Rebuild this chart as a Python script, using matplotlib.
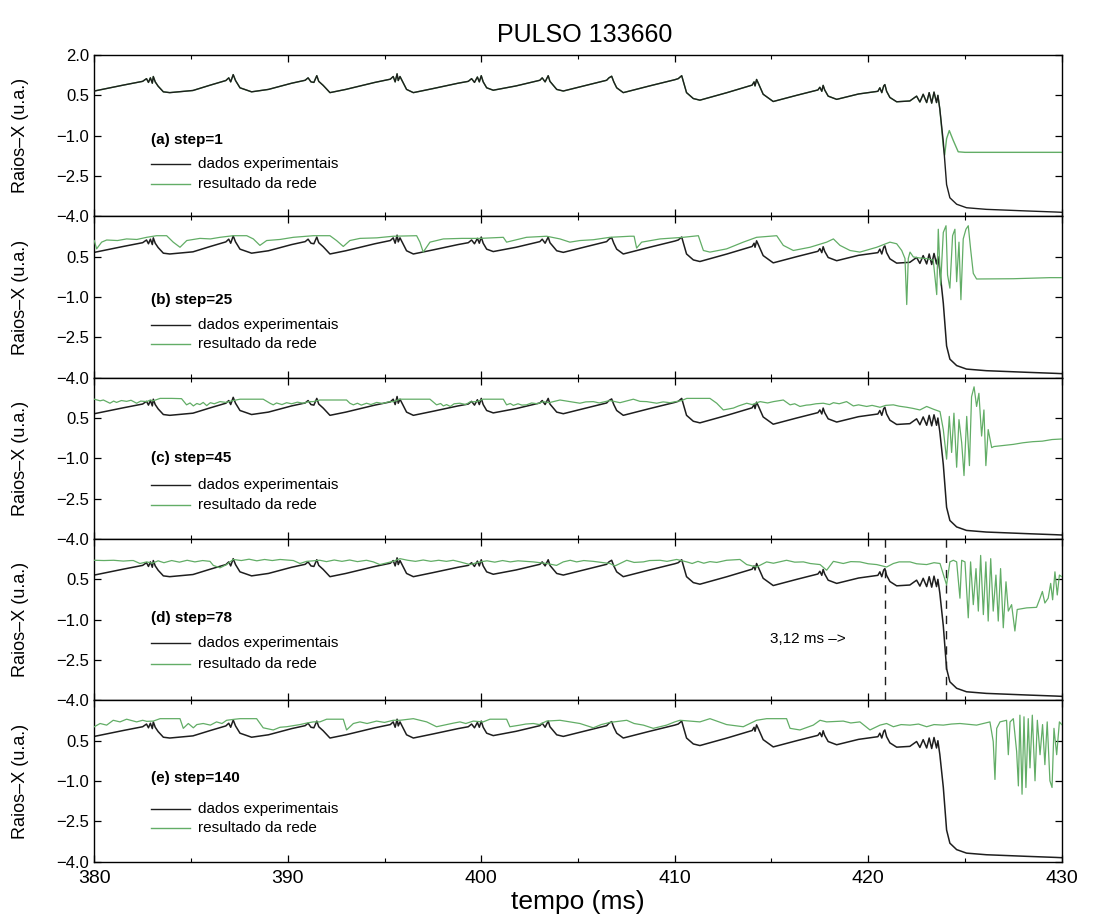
import numpy as np
import matplotlib
matplotlib.use('Agg')
from matplotlib import pyplot as plt
from matplotlib.ticker import MultipleLocator, FuncFormatter

plt.rcParams['font.family'] = ['Liberation Sans', 'DejaVu Sans']

# experimental soft X-ray signal (same in all panels)
exp_t = [380.0, 381.5, 382.5, 382.7, 382.8, 382.9, 383.0, 383.05, 383.15, 383.3, 383.57, 383.9,
         385.1, 386.0, 386.8, 386.95, 387.05, 387.18, 387.3, 387.53, 388.13,
         389.0, 390.2, 390.9, 391.05, 391.2, 391.35, 391.5, 391.6, 391.83, 392.18,
         393.0, 394.5, 395.3, 395.45, 395.55, 395.65, 395.71, 395.8, 396.14, 396.49,
         397.5, 398.8, 399.33, 399.5, 399.65, 399.8, 399.9, 400.0, 400.1, 400.28, 400.62,
         401.8, 403.03, 403.15, 403.3, 403.46, 403.55, 403.9, 404.24,
         405.3, 406.48, 406.6, 406.74, 406.85, 407.0, 407.34,
         408.7, 410.0, 410.18, 410.36, 410.45, 410.61, 410.96, 411.3,
         412.7, 414.0, 414.1, 414.15, 414.23, 414.35, 414.57, 415.09,
         416.3, 417.4, 417.5, 417.6, 417.67, 417.75, 417.93, 418.37,
         419.5, 420.5, 420.6, 420.7, 420.8, 420.86, 420.95, 421.12, 421.47,
         422.15, 422.5, 422.67, 422.84, 423.02, 423.15, 423.28, 423.4, 423.53, 423.6,
         423.7, 423.88, 424.05, 424.22, 424.57, 425.08, 426.1, 428.2, 429.7, 430.0]
exp_v = [0.66, 0.88, 1.02, 1.12, 0.98, 1.15, 0.95, 1.20, 1.00, 0.84, 0.63, 0.60,
         0.68, 0.88, 1.05, 1.15, 1.00, 1.27, 1.05, 0.78, 0.63,
         0.72, 0.95, 1.06, 1.15, 1.00, 0.98, 1.23, 1.02, 0.87, 0.60,
         0.72, 0.98, 1.10, 1.20, 1.00, 1.30, 1.05, 1.20, 0.72, 0.60,
         0.75, 0.95, 1.02, 1.12, 0.98, 1.18, 1.00, 1.23, 1.00, 0.78, 0.69,
         0.85, 1.06, 1.15, 1.00, 1.23, 1.02, 0.72, 0.66,
         0.85, 1.06, 1.15, 1.21, 1.00, 0.78, 0.60,
         0.85, 1.08, 1.12, 1.23, 1.00, 0.60, 0.38, 0.32,
         0.60, 0.88, 1.00, 0.85, 1.09, 0.90, 0.54, 0.27,
         0.50, 0.70, 0.80, 0.65, 0.87, 0.70, 0.47, 0.35,
         0.55, 0.65, 0.78, 0.60, 0.85, 0.90, 0.65, 0.42, 0.26,
         0.29, 0.47, 0.25, 0.54, 0.23, 0.60, 0.21, 0.62, 0.23, 0.50,
         -0.01, -1.23, -2.82, -3.31, -3.55, -3.68, -3.74, -3.80, -3.84, -3.85]

# (a) step=1: network output equals the data until the disruption
net_a_tail_t = [423.7, 423.88, 423.95, 424.05, 424.19, 424.39, 424.65, 425.0, 430.0]
net_a_tail_v = [-0.01, -1.40, -1.72, -1.11, -0.81, -1.17, -1.60, -1.62, -1.62]

# (b) step=25
net_b_t = [380.0, 380.12, 380.38, 380.64, 381.2, 381.67, 382.2, 382.71, 383.22, 383.74, 384.08, 384.43,
           384.78, 385.46, 386.0, 386.5, 387.18, 387.88, 388.22, 388.56, 388.91, 389.6, 390.29, 391.32,
           392.18, 392.52, 392.87, 393.21, 393.73, 394.6, 395.45, 396.66, 396.83, 397.0, 397.35, 398.04,
           399.0, 399.93, 401.14, 401.31, 401.65, 402.34, 403.38, 404.07, 404.58, 405.1, 405.79, 406.65,
           407.69, 407.9, 408.03, 408.29, 409.24, 410.44, 411.22, 411.48, 411.82, 412.68, 413.54, 414.23,
           415.27, 415.61, 416.13, 416.99, 417.85, 418.2, 418.54, 419.06, 419.57, 420.44, 421.12, 421.47,
           421.73, 421.9, 421.99, 422.07, 422.16, 422.33, 422.67, 423.02, 423.36, 423.54, 423.62, 423.74,
           423.88, 424.02, 424.1, 424.22, 424.36, 424.48, 424.57, 424.69, 424.79, 424.91, 425.05, 425.17,
           425.29, 425.43, 425.6, 427.5, 429.39, 430.0]
net_b_v = [1.10, 0.79, 1.04, 1.12, 1.10, 1.16, 1.14, 1.22, 1.28, 1.28, 1.04, 0.85,
           1.10, 1.18, 1.16, 1.22, 1.28, 1.28, 1.16, 0.92, 1.10, 1.14, 1.22, 1.28,
           1.28, 1.10, 0.88, 1.10, 1.18, 1.20, 1.26, 1.28, 1.04, 0.67, 1.04, 1.16,
           1.18, 1.18, 1.22, 1.04, 1.10, 1.22, 1.26, 1.16, 1.04, 1.10, 1.13, 1.22,
           1.26, 1.26, 0.82, 1.04, 1.16, 1.22, 1.28, 0.73, 0.67, 0.79, 1.04, 1.22,
           1.28, 0.92, 0.73, 0.85, 1.04, 1.16, 0.92, 0.73, 0.67, 0.85, 1.04, 0.98,
           0.73, 0.43, -1.28, 0.43, 0.67, 0.49, 0.45, 0.43, 0.37, -0.91, 1.52, -0.55,
           1.40, 1.65, -0.18, -0.67, 1.28, 1.52, -0.43, 1.04, -1.10, 1.16, 1.52, 1.65,
           0.79, -0.12, -0.33, -0.32, -0.28, -0.28]

# (c) step=45
net_c_t = [380.0, 380.3, 380.47, 380.81, 381.0, 381.15, 381.4, 381.67, 381.9, 382.19, 382.4, 382.71,
           382.9, 383.05, 383.4, 384.0, 384.51, 384.77, 384.95, 385.12, 385.3, 385.46, 385.63, 385.81,
           386.0, 386.2, 386.5, 386.8, 387.18, 387.53, 388.0, 388.73, 389.08, 389.25, 389.42, 389.7,
           389.94, 390.2, 390.5, 390.8, 391.1, 391.32, 391.66, 392.01, 392.5, 393.04, 393.21, 393.39,
           393.6, 393.8, 394.07, 394.3, 394.6, 394.9, 395.2, 395.45, 395.8, 396.2, 397.0, 397.35,
           397.69, 397.9, 398.04, 398.21, 398.4, 398.6, 398.9, 399.2, 399.42, 399.76, 400.1, 400.45,
           401.14, 401.31, 401.5, 401.66, 401.9, 402.1, 402.34, 402.6, 402.9, 403.21, 403.5, 404.07,
           404.59, 405.1, 405.4, 405.79, 406.1, 406.65, 407.17, 407.86, 408.2, 408.55, 409.07, 409.4,
           409.75, 410.36, 410.62, 411.82, 412.17, 412.51, 413.03, 413.3, 413.72, 414.0, 414.41, 414.8,
           415.1, 415.61, 415.96, 416.2, 416.47, 416.8, 416.99, 417.3, 417.68, 418.0, 418.2, 418.5,
           418.88, 419.23, 419.5, 419.92, 420.2, 420.61, 420.9, 421.3, 421.6, 421.99, 422.3, 422.67,
           423.02, 423.36, 423.71, 423.88, 424.05, 424.19, 424.31, 424.43, 424.57, 424.69, 424.83, 424.95,
           425.09, 425.23, 425.34, 425.47, 425.6, 425.72, 425.86, 425.98, 426.08, 426.2, 426.38, 426.5,
           427.0, 427.5, 428.0, 428.5, 429.0, 429.5, 430.0]
net_c_v = [1.20, 1.14, 1.17, 1.05, 1.13, 1.08, 1.15, 1.12, 1.16, 1.05, 1.13, 1.11,
           1.17, 1.14, 1.23, 1.23, 1.22, 0.99, 1.06, 0.95, 1.04, 1.00, 1.08, 0.96,
           1.07, 1.03, 1.11, 1.08, 1.15, 1.20, 1.20, 1.20, 1.05, 0.99, 1.06, 1.00,
           1.07, 1.03, 1.09, 1.05, 1.11, 1.11, 1.17, 1.17, 1.17, 1.17, 1.05, 0.99,
           1.05, 0.98, 1.05, 1.00, 1.08, 1.04, 1.10, 1.11, 1.20, 1.20, 1.20, 1.20,
           0.99, 1.04, 0.95, 1.00, 0.93, 1.03, 1.05, 1.00, 1.10, 1.11, 1.20, 1.20,
           1.20, 0.99, 1.04, 0.97, 1.03, 0.98, 0.99, 1.06, 1.03, 1.11, 1.07, 1.17,
           1.11, 1.05, 1.10, 1.11, 1.06, 1.15, 1.07, 1.20, 1.12, 1.11, 1.05, 1.10,
           1.07, 1.15, 1.23, 1.23, 1.05, 0.80, 0.87, 0.95, 1.05, 1.00, 1.11, 1.06,
           1.11, 1.17, 0.99, 1.03, 0.93, 0.98, 0.99, 1.03, 1.05, 1.00, 1.07, 1.03,
           1.11, 0.95, 0.99, 0.93, 0.97, 0.90, 0.97, 0.99, 0.94, 0.90, 0.86, 0.80,
           0.93, 0.83, 0.74, 0.07, -1.03, 0.56, -0.78, 0.68, -1.33, 0.44, -0.42, -1.64,
           0.56, -1.27, 1.29, 1.66, 0.93, 1.42, -0.17, 0.80, -1.27, 0.07, -0.60, -0.56,
           -0.52, -0.48, -0.42, -0.38, -0.36, -0.30, -0.28]

# (d) step=78
net_d_t = [380.0, 380.5, 381.0, 381.5, 381.9, 382.02, 382.36, 382.71, 383.0, 383.3, 383.6, 384.0,
           384.4, 384.8, 385.2, 385.6, 385.98, 386.15, 386.5, 386.84, 387.18, 387.6, 388.0, 388.4,
           388.8, 389.2, 389.6, 390.29, 390.63, 390.97, 391.66, 392.0, 392.4, 392.8, 393.2, 393.6,
           394.07, 394.42, 394.76, 395.45, 395.8, 396.2, 396.6, 397.0, 397.4, 397.8, 398.2, 398.55,
           398.9, 399.42, 399.93, 400.3, 400.7, 401.1, 401.5, 401.9, 402.34, 402.69, 403.38, 403.89,
           404.24, 404.6, 404.93, 405.3, 405.79, 406.2, 406.65, 406.91, 407.52, 407.9, 408.38, 408.7,
           409.24, 409.6, 410.1, 410.62, 410.9, 411.2, 411.5, 411.82, 412.17, 412.68, 413.37, 413.72,
           414.23, 414.75, 415.1, 415.78, 416.2, 416.65, 417.0, 417.51, 417.85, 418.2, 418.71, 419.1,
           419.57, 420.0, 420.44, 420.95, 421.3, 421.6, 422.16, 422.5, 423.02, 423.4, 423.71, 424.05,
           424.22, 424.4, 424.57, 424.74, 424.83, 425.0, 425.17, 425.29, 425.43, 425.57, 425.69, 425.81,
           425.95, 426.08, 426.2, 426.33, 426.46, 426.6, 426.72, 426.84, 426.98, 427.12, 427.24, 427.41,
           427.58, 427.7, 428.19, 428.7, 428.88, 429.0, 429.13, 429.3, 429.43, 429.53, 429.65, 429.77,
           429.88, 430.0]
net_d_v = [1.21, 1.20, 1.21, 1.18, 1.20, 1.20, 1.09, 1.15, 1.10, 1.19, 1.12, 1.20,
           1.14, 1.21, 1.15, 1.20, 1.17, 1.02, 0.93, 1.05, 1.24, 1.20, 1.25, 1.19,
           1.24, 1.20, 1.24, 1.20, 1.09, 1.17, 1.21, 1.16, 1.22, 1.17, 1.22, 1.16,
           1.21, 1.15, 1.05, 1.17, 1.27, 1.21, 1.17, 1.22, 1.17, 1.21, 1.17, 1.21,
           1.15, 1.05, 1.15, 1.19, 1.14, 1.20, 1.15, 1.19, 1.17, 1.15, 1.09, 1.02,
           1.15, 1.21, 1.15, 1.20, 1.17, 1.13, 1.09, 1.00, 1.21, 1.13, 1.15, 1.20,
           1.21, 1.17, 1.24, 1.15, 1.09, 1.17, 1.10, 1.16, 1.13, 1.21, 1.24, 1.05,
           0.96, 1.15, 1.10, 1.21, 1.14, 1.15, 1.09, 1.05, 0.84, 1.17, 1.09, 1.16,
           1.15, 1.08, 1.05, 0.96, 1.09, 1.15, 1.15, 1.08, 1.05, 1.12, 1.09, 0.29,
           1.15, 1.21, 1.15, -0.20, 1.21, 1.15, -0.93, 1.15, -0.44, 0.90, -0.68, 1.39,
           -0.81, 1.15, -1.05, 1.27, -0.68, 0.66, -1.05, 0.90, -1.30, 0.41, -0.68, -0.44,
           -1.42, -0.62, -0.56, -0.54, -0.20, 0.05, -0.38, -0.20, 0.35, -0.26, 0.78, -0.08,
           0.66, 0.60]

# (e) step=140
net_e_t = [380.0, 380.3, 380.64, 380.98, 381.33, 381.67, 382.19, 382.5, 382.71, 383.05, 383.4, 384.43,
           384.6, 384.86, 385.12, 385.3, 385.63, 386.0, 386.32, 386.6, 386.84, 387.27, 387.53, 388.39,
           388.73, 389.25, 389.6, 389.94, 390.63, 391.0, 391.32, 391.66, 392.01, 392.87, 393.04, 393.39,
           393.73, 394.1, 394.59, 395.0, 395.45, 395.8, 396.49, 397.18, 397.69, 398.21, 398.6, 398.9,
           399.2, 399.59, 400.1, 400.45, 401.31, 401.48, 402.0, 402.3, 402.69, 403.0, 403.38, 404.07,
           405.1, 405.79, 406.2, 406.65, 407.52, 407.9, 408.38, 408.89, 409.58, 410.0, 410.27, 411.3,
           411.82, 412.68, 413.2, 413.54, 414.23, 414.75, 415.78, 415.96, 416.47, 417.16, 417.51, 417.85,
           418.71, 419.1, 419.57, 420.09, 420.61, 420.95, 421.3, 421.7, 422.16, 422.6, 423.02, 423.4,
           423.88, 424.3, 424.74, 425.6, 426.29, 426.46, 426.55, 426.64, 426.81, 427.15, 427.24, 427.33,
           427.5, 427.67, 427.76, 427.84, 427.95, 428.05, 428.15, 428.27, 428.36, 428.48, 428.62, 428.74,
           428.88, 429.01, 429.13, 429.25, 429.39, 429.5, 429.6, 429.74, 429.88, 430.0]
net_e_v = [1.02, 1.14, 1.08, 1.26, 1.20, 1.30, 1.20, 1.26, 1.22, 1.23, 1.32, 1.32,
           0.96, 1.14, 0.98, 1.10, 1.14, 1.08, 1.20, 1.14, 1.26, 1.30, 1.32, 1.32,
           0.98, 0.90, 1.00, 1.02, 1.10, 1.16, 1.20, 1.20, 1.30, 1.30, 0.90, 1.14,
           1.20, 1.14, 1.23, 1.18, 1.26, 1.26, 1.32, 1.20, 1.02, 1.10, 1.16, 1.20,
           1.14, 1.23, 1.20, 1.30, 1.30, 1.02, 1.08, 1.12, 1.14, 1.10, 1.23, 1.26,
           1.14, 0.98, 1.10, 1.18, 1.26, 1.14, 1.08, 0.96, 1.08, 1.20, 1.26, 1.20,
           1.32, 1.10, 1.05, 1.02, 1.26, 1.32, 1.32, 0.96, 0.90, 1.08, 1.26, 1.20,
           1.23, 1.16, 1.20, 0.90, 1.08, 1.14, 1.02, 1.10, 1.08, 1.12, 1.02, 1.10,
           1.08, 1.12, 1.14, 1.08, 1.20, 0.47, -0.94, 0.96, 1.20, 1.26, -0.02, 1.20,
           1.32, 0.10, -1.18, 1.45, -1.49, 1.39, -1.24, 1.32, -0.51, 1.45, -0.99, 1.26,
           -0.02, 1.10, -0.39, 1.20, -0.99, -1.24, 0.96, -0.02, 1.20, 1.10]

# net output of panel (a) = data before the disruption, then its own tail
exp_t_arr = np.array(exp_t)
exp_v_arr = np.array(exp_v)
pre = exp_t_arr < net_a_tail_t[0]
net_a_t = list(exp_t_arr[pre]) + net_a_tail_t
net_a_v = list(exp_v_arr[pre]) + net_a_tail_v

panels = [
    ('(a) step=1', net_a_t, net_a_v),
    ('(b) step=25', net_b_t, net_b_v),
    ('(c) step=45', net_c_t, net_c_v),
    ('(d) step=78', net_d_t, net_d_v),
    ('(e) step=140', net_e_t, net_e_v),
]
# legend vertical positions (axes fraction): title, row 1, row 2
leg_y = [(0.474, 0.326, 0.202), (0.48, 0.324, 0.207), (0.50, 0.336, 0.212),
         (0.51, 0.355, 0.227), (0.516, 0.326, 0.21)]

black = '#1e1e1e'
green = '#62ad66'

yfmt = FuncFormatter(lambda v, pos: ('%.1f' % v).replace('-', '\u2212'))

fig, axes = plt.subplots(5, 1, figsize=(11.04, 9.18), dpi=100, sharex=True)
fig.subplots_adjust(left=0.0854, right=0.9617, top=0.9401, bottom=0.0613, hspace=0)

for i, (ax, (lab, nt, nv)) in enumerate(zip(axes, panels)):
    if i == 0:
        ax.plot(nt, nv, color=green, lw=1.0, zorder=2)
        ax.plot(exp_t, exp_v, color=black, lw=1.0, zorder=3)
    else:
        ax.plot(exp_t, exp_v, color=black, lw=1.1, zorder=2)
        ax.plot(nt, nv, color=green, lw=0.9, zorder=3)

    ax.set_xlim(380, 430)
    ax.set_ylim(-4.0, 2.0)
    if i == 0:
        ax.set_yticks([-4.0, -2.5, -1.0, 0.5, 2.0])
    else:
        ax.set_yticks([-4.0, -2.5, -1.0, 0.5])
    ax.yaxis.set_major_formatter(yfmt)
    ax.xaxis.set_major_locator(MultipleLocator(10))
    ax.xaxis.set_minor_locator(MultipleLocator(5))
    ax.tick_params(which='both', direction='in', top=True, right=True)
    ax.tick_params(which='major', length=5, width=0.9, labelsize=12)
    ax.tick_params(which='minor', length=3, width=0.8)
    ax.tick_params(axis='x', which='major', labelsize=14, pad=6)
    for s in ax.spines.values():
        s.set_linewidth(1.0)
    ax.set_ylabel('Raios–X (u.a.)', fontsize=13)
    ax.yaxis.set_label_coords(-0.067, 0.5)

    ty, r1, r2 = leg_y[i]
    ax.text(0.059, ty, lab, transform=ax.transAxes, fontsize=11, fontweight='bold',
            va='center', ha='left')
    ax.plot([0.059, 0.099], [r1, r1], transform=ax.transAxes, color=black, lw=1.0)
    ax.plot([0.059, 0.099], [r2, r2], transform=ax.transAxes, color=green, lw=1.0)
    ax.text(0.1075, r1, 'dados experimentais', transform=ax.transAxes, fontsize=11,
            va='center', ha='left')
    ax.text(0.1075, r2, 'resultado da rede', transform=ax.transAxes, fontsize=11,
            va='center', ha='left')

# panel (d): warning interval before the disruption
ax_d = axes[3]
warn_t = [420.88, 424.0]
for wt in warn_t:
    ax_d.axvline(wt, color=black, lw=1.0, ls=(0, (6, 5)))
ax_d.text(414.9, -1.72, '3,12 ms –>', fontsize=11, va='center', ha='left')

axes[-1].set_xlabel('tempo (ms)', fontsize=19, labelpad=2)
fig.suptitle('PULSO 133660', fontsize=18, x=0.53, y=0.975)

plt.savefig('out.png', dpi=100)
